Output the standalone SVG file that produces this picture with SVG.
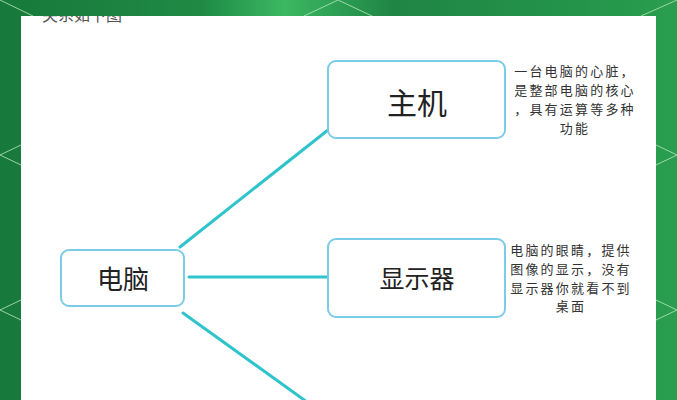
<svg xmlns="http://www.w3.org/2000/svg" width="677" height="400" viewBox="0 0 677 400">
<defs>
<linearGradient id="bg" x1="0" y1="0" x2="1" y2="0">
<stop offset="0" stop-color="#17793b"/>
<stop offset="0.3" stop-color="#1f8a45"/>
<stop offset="0.42" stop-color="#3bb862"/>
<stop offset="0.58" stop-color="#1f8545"/>
<stop offset="0.85" stop-color="#24944a"/>
<stop offset="1" stop-color="#2a9e4e"/>
</linearGradient>
<style>
.node{fill:#ffffff;stroke:#7ccbe8;stroke-width:2}
.lbl{font-family:"Noto Sans CJK SC","Noto Sans",sans-serif;fill:#222;text-anchor:middle;dominant-baseline:central}
.desc{font-family:"Noto Sans CJK SC","Noto Sans",sans-serif;fill:#333;font-size:13px;letter-spacing:2.2px;text-anchor:middle;dominant-baseline:central}
.edge{stroke:#2fc3cc;stroke-width:3;fill:none;stroke-linecap:round}
.deco{stroke:#b8e8c0;stroke-width:1;fill:none;opacity:0.8}
</style>
</defs>
<rect x="0" y="0" width="677" height="400" fill="url(#bg)"/>
<g class="deco">
<polyline points="304,16 338,0 372,16"/>
<polyline points="0,0 33,16"/>
<polyline points="641,16 677,0"/>
<polyline points="21,145 0,155 21,165"/>
<polyline points="21,300 0,310 21,320"/>
<polyline points="656,145 677,155 656,165"/>
<polyline points="656,300 677,310 656,320"/>
</g>
<rect x="21" y="16" width="635" height="384" fill="#ffffff"/>
<svg x="21" y="16" width="635" height="20" overflow="hidden">
<text x="21" y="5" font-family="'Noto Sans CJK SC',sans-serif" font-size="16" fill="#555">关系如下图</text>
</svg>
<g id="connectors">
<line class="edge" x1="180" y1="247" x2="328" y2="130"/>
<line class="edge" x1="189" y1="277" x2="328" y2="277"/>
<line class="edge" x1="183" y1="313" x2="307" y2="402"/>
</g>
<g id="node-diannao">
<rect class="node" x="61" y="250" width="123" height="56" rx="8"/>
<text class="lbl" x="123" y="277" font-size="26">电脑</text>
</g>
<g id="node-zhuji">
<rect class="node" x="328" y="61" width="177" height="77" rx="8"/>
<text class="lbl" x="417" y="101" font-size="30">主机</text>
<text class="desc"><tspan x="575" y="70">一台电脑的心脏，</tspan><tspan x="575" y="89">是整部电脑的核心</tspan><tspan x="575" y="108">，具有运算等多种</tspan><tspan x="575" y="127">功能</tspan></text>
</g>
<g id="node-xianshiqi">
<rect class="node" x="328" y="239" width="177" height="78" rx="8"/>
<text class="lbl" x="417" y="277" font-size="25">显示器</text>
<text class="desc"><tspan x="571" y="249">电脑的眼睛，提供</tspan><tspan x="571" y="268">图像的显示，没有</tspan><tspan x="571" y="287">显示器你就看不到</tspan><tspan x="571" y="305">桌面</tspan></text>
</g>
</svg>
